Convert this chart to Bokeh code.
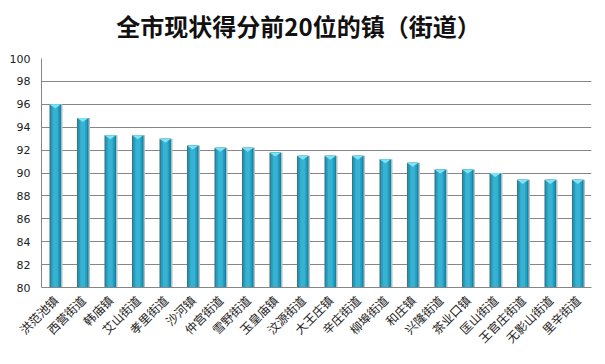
from bokeh.plotting import figure
from bokeh.models import Range1d, FixedTicker, ColumnDataSource, Div
from bokeh.layouts import column
from bokeh.embed import file_html
from bokeh.resources import INLINE

towns = ["洪范池镇", "西营街道", "韩庙镇", "艾山街道", "孝里街道", "沙河镇", "仲宫街道",
         "雪野街道", "玉皇庙镇", "汶源街道", "大王庄镇", "辛庄街道", "柳埠街道", "和庄镇",
         "兴隆街道", "茶业口镇", "匡山街道", "王官庄街道", "无影山街道", "里辛街道"]
scores = [96.0, 94.8, 93.3, 93.3, 93.0, 92.4, 92.2, 92.2, 91.8, 91.5,
          91.5, 91.5, 91.2, 90.9, 90.3, 90.3, 90.0, 89.4, 89.4, 89.4]
y_ticks = [80, 82, 84, 86, 88, 90, 92, 94, 96, 98, 100]
title_text = "全市现状得分前20位的镇（街道）"

idx = list(range(len(towns)))
src = ColumnDataSource(dict(x=idx, top=scores))

title = Div(text=title_text, width=597, height=50,
            styles={"font-family": "Noto Sans CJK SC", "font-size": "24px",
                    "font-weight": "bold", "color": "#111111", "text-align": "center",
                    "width": "597px", "line-height": "52px", "margin": "0", "padding": "0"})

p = figure(width=597, height=306, output_backend="svg", toolbar_location=None,
           x_range=Range1d(-0.5, len(towns) - 0.5), y_range=Range1d(80, 100),
           min_border_left=41, min_border_right=6, min_border_top=8, min_border_bottom=69)
p.outline_line_color = None
p.background_fill_color = "white"

# shadow
p.vbar(x=[i + 0.05 for i in idx], top=scores, bottom=80, width=0.43, fill_color="#bdbdbd",
       line_color=None)
# bar body layers
p.vbar(x="x", top="top", bottom=80, width=0.42, source=src, fill_color="#1d819e", line_color=None)
p.vbar(x="x", top="top", bottom=80, width=0.32, source=src, fill_color="#279dbd", line_color=None)
p.vbar(x="x", top="top", bottom=80, width=0.18, source=src, fill_color="#38b2d3", line_color=None)
# cap
cap_xs = [[i - 0.21, i + 0.21, i] for i in idx]
cap_ys = [[v, v, v - 0.35] for v in scores]
p.patches(cap_xs, cap_ys, fill_color="#7fe3f5", line_color=None)

p.xaxis.ticker = FixedTicker(ticks=idx)
p.xaxis.major_label_overrides = {i: t for i, t in zip(idx, towns)}
p.xaxis.major_label_orientation = 0.785398
p.xaxis.major_label_text_font = "Noto Sans CJK SC"
p.xaxis.major_label_text_font_size = "12px"
p.xaxis.major_label_text_color = "#222222"
p.xaxis.major_tick_line_color = None
p.xaxis.minor_tick_line_color = None
p.xaxis.axis_line_color = "#868686"
p.xaxis.major_label_standoff = 4

p.yaxis.ticker = FixedTicker(ticks=y_ticks)
p.yaxis.major_label_text_font = "DejaVu Sans"
p.yaxis.major_label_text_font_size = "11px"
p.yaxis.major_label_text_color = "#222222"
p.yaxis.major_tick_line_color = None
p.yaxis.minor_tick_line_color = None
p.yaxis.axis_line_color = "#868686"
p.yaxis.major_label_standoff = 5

p.xgrid.grid_line_color = None
p.ygrid.ticker = FixedTicker(ticks=y_ticks)
p.ygrid.grid_line_color = "#868686"
p.ygrid.grid_line_width = 1

layout = column(title, p, spacing=0)
open("out.html", "w").write(file_html(layout, INLINE))
